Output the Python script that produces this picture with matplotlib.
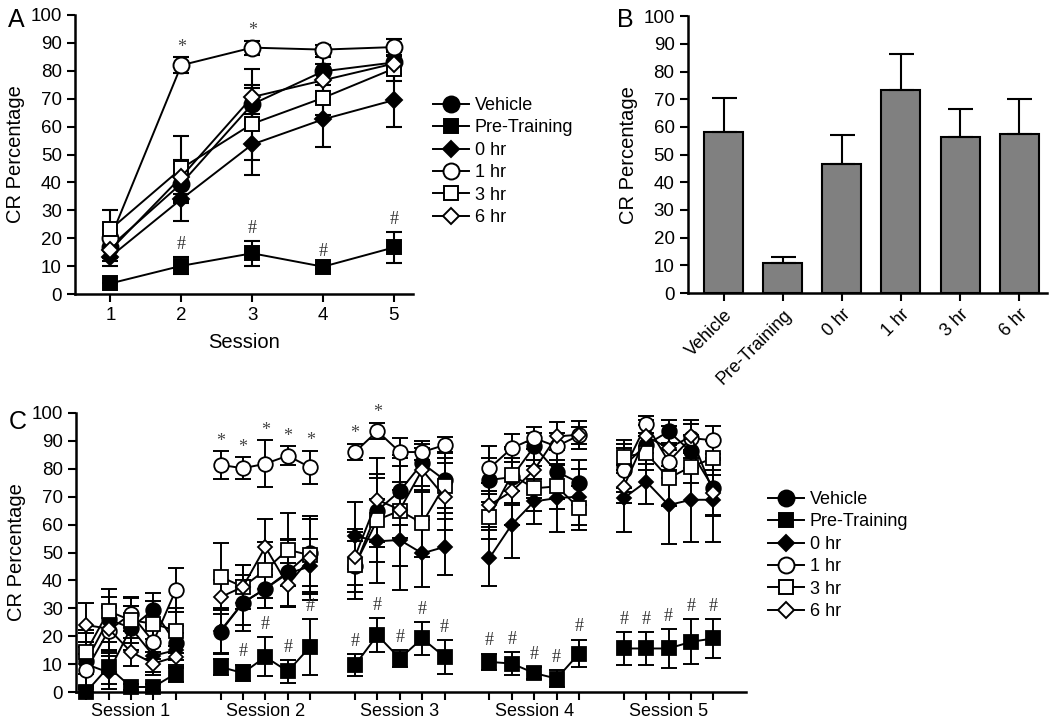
import matplotlib
matplotlib.use('Agg')
import matplotlib.pyplot as plt
import numpy as np

plt.rcParams['font.family'] = ['Liberation Sans', 'DejaVu Sans']

# ---------------- data ----------------
groups = ['Vehicle', 'Pre-Training', '0 hr', '1 hr', '3 hr', '6 hr']

# panel A: mean CR % per session
sessions_a = [1, 2, 3, 4, 5]
a_vehicle = [17, 39.6, 68, 79.8, 83]
a_pre = [3.8, 10.1, 14.6, 9.8, 16.7]
a_0hr = [13.4, 34, 53.6, 62.6, 69.5]
a_1hr = [20, 82, 88.3, 87.6, 88.5]
a_3hr = [23.2, 45, 61, 70.3, 80.8]
a_6hr = [15.8, 42, 70.6, 76.6, 82.6]
a_vehicle_err = [4, 7, 7, 5, 4]
a_pre_err = [0, 3, 4.5, 1, 5.5]
a_0hr_err = [3.5, 8, 11, 10, 9.5]
a_1hr_err = [3, 2.8, 2.5, 1.5, 3]
a_3hr_err = [7, 11.5, 13, 6, 4.5]
a_6hr_err = [4, 6, 10, 6, 4]
a_star_idx = [1, 2]          # 1 hr vs vehicle
a_hash_idx = [1, 2, 3, 4]    # pre-training vs vehicle

# panel B: overall mean
b_labels = ['Vehicle', 'Pre-Training', '0 hr', '1 hr', '3 hr', '6 hr']
b_values = [58.3, 10.8, 46.6, 73.2, 56.5, 57.5]
b_err = [12, 2.3, 10.3, 13.3, 10.1, 12.5]

# panel C: 5 blocks per session, sessions 1-5
c_sessions = ['Session 1', 'Session 2', 'Session 3', 'Session 4', 'Session 5']
c_vehicle = [11, 26, 23, 29.5, 17.5,
             21.6, 32, 37, 43, 50,
             45, 65, 72, 82, 76,
             76, 77, 88, 79, 75,
             81, 88.6, 93.4, 86.2, 73]
c_pre = [0, 9, 1.8, 1.8, 6.6,
         9, 6.8, 12.6, 7.4, 16.2,
         9.6, 20.4, 12, 19.2, 12.6,
         10.8, 10.2, 6.8, 4.8, 13.8,
         15.6, 15.6, 15.6, 18, 19.2]
c_0hr = [10, 7, 23, 13, 15,
         22, 32, 37, 42.5, 45,
         56, 54, 54.5, 49.7, 52,
         48, 60, 68.3, 69.5, 70,
         69.5, 75.4, 67, 68.9, 68.9]
c_1hr = [7.8, 22, 28, 18, 36.5,
         81.4, 80.2, 81.8, 84.7, 80.5,
         86, 93.5, 86, 86, 88.5,
         80.2, 87.4, 91, 88, 92,
         79.6, 96, 82.6, 91, 90.2]
c_3hr = [14.4, 29, 25.7, 24.5, 22,
         41.3, 37.7, 43.7, 51, 49,
         45.5, 61.7, 65, 60.5, 74,
         62.9, 77.8, 73, 73.7, 65.9,
         84.4, 85.6, 76.6, 80.8, 83.8]
c_6hr = [24, 22.7, 14.4, 10.2, 12.6,
         34, 37.7, 52, 38.3, 48,
         48.5, 68.9, 65.3, 79.6, 70,
         67, 71.9, 79.6, 91.6, 92.2,
         73.6, 91.6, 87.4, 91.6, 71.5]
c_vehicle_err = [10, 8, 8, 6, 6,
                 8, 8, 7, 12, 12,
                 9, 13, 12, 8, 10,
                 8, 10, 5, 10, 8,
                 8, 7, 4, 6, 10]
c_pre_err = [0, 6, 1, 1, 3,
             3, 3, 7, 4, 10,
             4, 6, 3, 6, 6,
             3, 4, 2, 3, 5,
             6, 6, 7, 8, 7]
c_0hr_err = [8, 6, 8, 6, 6,
             8, 10, 7, 12, 10,
             12, 15, 18, 12, 10,
             10, 12, 8, 12, 10,
             12, 8, 14, 15, 15]
c_1hr_err = [6, 8, 6, 6, 8,
             5, 4, 8.5, 3.5, 6,
             3, 3, 5, 3, 3,
             8, 5, 4, 5, 3,
             8, 3, 6, 5, 5]
c_3hr_err = [8, 8, 8, 8, 8,
             12, 8, 10, 13, 13,
             12, 15, 20, 12, 10,
             8, 10, 8, 8, 8,
             6, 6, 10, 6, 6]
c_6hr_err = [8, 8, 5, 4, 4,
             6, 8, 10, 8, 15,
             10, 15, 10, 8, 12,
             8, 12, 10, 5, 5,
             6, 6, 8, 6, 8]
c_star_idx = [5, 6, 7, 8, 9, 10, 11]
c_hash_idx = [6, 7, 8, 9] + list(range(10, 25))

# ---------------- style ----------------
markers = ['o', 's', 'D', 'o', 's', 'D']
faces = ['black', 'black', 'black', 'white', 'white', 'white']
sizes_a = [11.5, 10.5, 8, 11.5, 10.5, 8]
sizes_c = [10.5, 9.5, 7.5, 10.5, 9.5, 7.5]


def style_axes(ax):
    for s in ['top', 'right']:
        ax.spines[s].set_visible(False)
    for s in ['left', 'bottom']:
        ax.spines[s].set_linewidth(1.8)
    ax.tick_params(width=1.5, length=6, labelsize=13.5)
    ax.set_ylim(0, 100)
    ax.set_yticks(range(0, 101, 10))


fig = plt.figure(figsize=(10.5, 7.21), dpi=100)

# ---------------- panel A ----------------
axA = fig.add_axes([0.0714, 0.5922, 0.322, 0.387])
style_axes(axA)
a_means = [a_vehicle, a_pre, a_0hr, a_1hr, a_3hr, a_6hr]
a_errs = [a_vehicle_err, a_pre_err, a_0hr_err, a_1hr_err, a_3hr_err, a_6hr_err]
handles = []
for i in range(6):
    axA.errorbar(sessions_a, a_means[i], yerr=a_errs[i], fmt='none', ecolor='black',
                 elinewidth=1.5, capsize=6, capthick=1.5, zorder=2)
    h, = axA.plot(sessions_a, a_means[i], color='black', lw=1.4, marker=markers[i],
                  ms=sizes_a[i], mfc=faces[i], mec='black', mew=1.4, zorder=3 + i,
                  clip_on=False, label=groups[i])
    handles.append(h)
for j in a_star_idx:
    axA.text(sessions_a[j], a_1hr[j] + a_1hr_err[j] + 0.5, '*', ha='center', va='bottom',
             fontsize=13, family='Liberation Serif', color='#444444')
for j in a_hash_idx:
    axA.text(sessions_a[j], a_pre[j] + a_pre_err[j] + 1.5, '#', ha='center', va='bottom',
             fontsize=13, family='Liberation Serif', color='#333333')
axA.set_xlim(0.5, 5.27)
axA.set_xticks(sessions_a)
axA.set_xlabel('Session', fontsize=14.5, labelpad=6)
axA.set_ylabel('CR Percentage', fontsize=14.5, labelpad=4)
fig.text(0.008, 0.962, 'A', fontsize=18)
fig.legend(handles=handles, loc='upper left', bbox_to_anchor=(433 / 1050, 1 - 97 / 721),
           frameon=False, fontsize=13, handlelength=2.0, handletextpad=0.3,
           labelspacing=0.3, borderpad=0, borderaxespad=0)

# ---------------- panel B ----------------
axB = fig.add_axes([0.655, 0.5936, 0.342, 0.384])
style_axes(axB)
xb = np.arange(len(b_labels))
axB.bar(xb, b_values, width=0.66, color='#808080', edgecolor='black', linewidth=1.5,
        yerr=[np.zeros(len(b_err)), b_err], capsize=9,
        error_kw=dict(elinewidth=1.5, capthick=1.5, ecolor='black'), zorder=3)
axB.set_xlim(-0.61, 5.47)
axB.set_xticks(xb)
axB.set_xticklabels(b_labels, rotation=45, ha='right', rotation_mode='anchor', fontsize=13)
axB.set_ylabel('CR Percentage', fontsize=14.5, labelpad=4)
fig.text(0.588, 0.962, 'B', fontsize=18)

# ---------------- panel C ----------------
axC = fig.add_axes([0.0724, 0.0402, 0.638, 0.387])
style_axes(axC)
c_means = [c_vehicle, c_pre, c_0hr, c_1hr, c_3hr, c_6hr]
c_errs = [c_vehicle_err, c_pre_err, c_0hr_err, c_1hr_err, c_3hr_err, c_6hr_err]
xc = np.array([6 * g + k for g in range(5) for k in range(5)])
for i in range(6):
    m = np.array(c_means[i])
    e = np.array(c_errs[i])
    axC.errorbar(xc, m, yerr=e, fmt='none', ecolor='black', elinewidth=1.4,
                 capsize=5.5, capthick=1.4, zorder=2)
    for g in range(5):
        sl = slice(5 * g, 5 * g + 5)
        axC.plot(xc[sl], m[sl], color='black', lw=1.4, marker=markers[i], ms=sizes_c[i],
                 mfc=faces[i], mec='black', mew=1.3, zorder=3 + i, clip_on=False)
for j in c_star_idx:
    axC.text(xc[j], c_1hr[j] + c_1hr_err[j] + 0.5, '*', ha='center', va='bottom',
             fontsize=13, family='Liberation Serif', color='#444444')
for j in c_hash_idx:
    axC.text(xc[j], c_pre[j] + c_pre_err[j] + 1.5, '#', ha='center', va='bottom',
             fontsize=13, family='Liberation Serif', color='#333333')
axC.set_xlim(-0.45, 29.45)
axC.set_xticks(xc)
axC.set_xticklabels([])
for g in range(5):
    axC.text(6 * g + 2, -4, c_sessions[g], ha='center', va='top', fontsize=13,
             transform=axC.transData)
axC.set_ylabel('CR Percentage', fontsize=14.5, labelpad=4)
fig.text(0.008, 0.405, 'C', fontsize=18)
fig.legend(handles=handles, loc='upper left', bbox_to_anchor=(768 / 1050, 1 - 491 / 721),
           frameon=False, fontsize=13, handlelength=2.0, handletextpad=0.3,
           labelspacing=0.3, borderpad=0, borderaxespad=0)

fig.savefig('out.png', dpi=100)
